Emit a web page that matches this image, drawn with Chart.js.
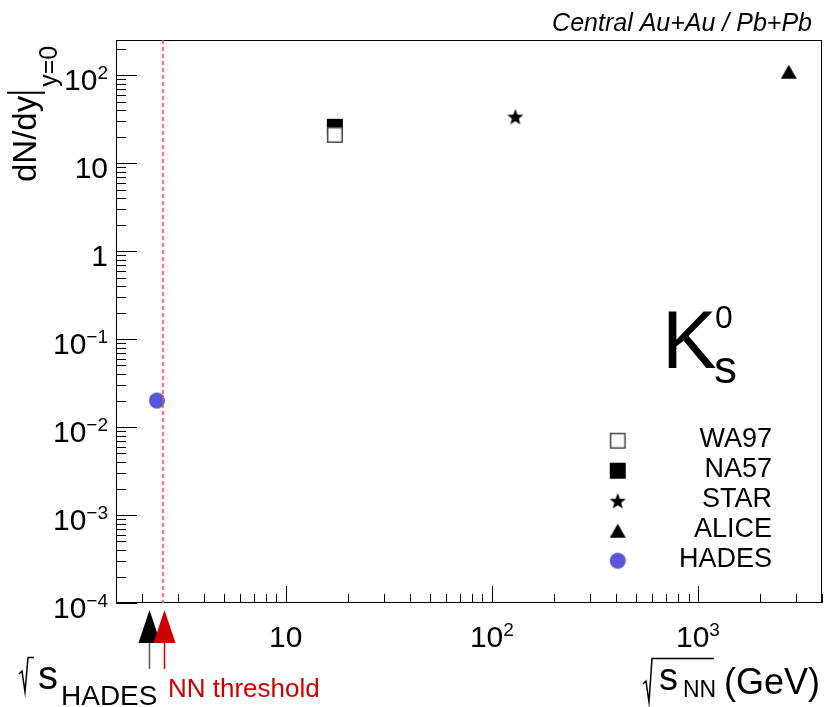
<!DOCTYPE html>
<html>
<head>
<meta charset="utf-8">
<script src="https://cdn.jsdelivr.net/npm/chart.js@4.4.1/dist/chart.umd.min.js"></script>
<style>
  html, body { margin: 0; padding: 0; background: #fff; }
  canvas { display: block; }
</style>
</head>
<body>
<canvas id="k0Chart" width="824" height="707"></canvas>
<script>
// ── DATA ─────────────────────────────────────────────────────────────────────
const experiments = ['WA97', 'NA57', 'STAR', 'ALICE', 'HADES'];
const sqrtSNN = [17.3, 17.3, 130, 2760, 2.37];
const dNdyK0 = [20.9, 25.8, 33.7, 109, 0.02];
const xRange = [1.5, 4000];
const yRange = [1e-4, 250];
const xLabelDecades = [1, 2, 3];
const yLabelDecades = [-4, -3, -2, -1, 0, 1, 2];
const nnThreshold = 2.55;
const hadesArrowX = 2.16;

const FONT = '"Liberation Sans", Arial, sans-serif';
const HADES_BLUE = '#5954d8';
const markerKinds = ['openSquare', 'square', 'star', 'triangle', 'circle'];

// ── MARKERS (ROOT-like shapes as small canvases) ─────────────────────────────
function makeMarker(kind) {
  const c = document.createElement('canvas');
  c.width = 20; c.height = 20;
  const g = c.getContext('2d');
  g.fillStyle = '#000';
  if (kind === 'openSquare') {
    g.fillStyle = '#fff'; g.fillRect(2.75, 2.75, 14.5, 14.5);
    g.strokeStyle = '#444'; g.lineWidth = 1.5; g.strokeRect(2.75, 2.75, 14.5, 14.5);
  } else if (kind === 'square') {
    g.fillRect(2, 2, 16, 16);
  } else if (kind === 'star') {
    const R = 8.5, r = 3.6, cx = 10, cy = 10.8;
    g.beginPath();
    for (let i = 0; i < 10; i++) {
      const a = -Math.PI / 2 + i * Math.PI / 5;
      const rr = i % 2 ? r : R;
      g.lineTo(cx + rr * Math.cos(a), cy + rr * Math.sin(a));
    }
    g.closePath(); g.fill();
  } else if (kind === 'triangle') {
    g.beginPath(); g.moveTo(10, 3); g.lineTo(18, 17); g.lineTo(2, 17); g.closePath(); g.fill();
  } else if (kind === 'circle') {
    g.fillStyle = HADES_BLUE;
    g.beginPath(); g.arc(10, 10, 8, 0, 2 * Math.PI); g.fill();
  }
  return c;
}
const markers = markerKinds.map(makeMarker);

// ── TEXT HELPERS ─────────────────────────────────────────────────────────────
function drawPow(ctx, e, x, baseY, align) {
  const base = e === 0 ? '1' : '10';
  const sup = (e === 0 || e === 1) ? '' : String(e).replace('-', '\u2212');
  ctx.font = `30px ${FONT}`;
  const wb = ctx.measureText(base).width;
  ctx.font = `19px ${FONT}`;
  const ws = sup ? ctx.measureText(sup).width : 0;
  const left = align === 'right' ? x - wb - ws : x - (wb + ws) / 2;
  ctx.textAlign = 'left';
  ctx.font = `30px ${FONT}`;
  ctx.fillText(base, left, baseY);
  if (sup) { ctx.font = `19px ${FONT}`; ctx.fillText(sup, left + wb, baseY - 11.3); }
}

function radical(ctx, x0, yTop, yBot, barEnd) {
  ctx.beginPath();
  ctx.moveTo(x0, yBot - 18);
  ctx.lineTo(x0 + 3, yBot - 21);
  ctx.lineTo(x0 + 6, yBot);
  ctx.lineTo(x0 + 9, yTop);
  ctx.lineTo(barEnd, yTop);
  ctx.stroke();
}

// ── ROOT STYLE FRAME, TICKS AND ANNOTATIONS ──────────────────────────────────
const rootStyle = {
  id: 'rootStyle',
  afterDraw(chart) {
    const { ctx, chartArea: a, scales: { x, y } } = chart;
    ctx.save();
    ctx.fillStyle = '#000';
    ctx.strokeStyle = '#000';
    ctx.lineWidth = 1;

    // frame
    ctx.strokeRect(a.left + 0.5, a.top + 0.5, a.right - a.left - 1, a.bottom - a.top - 1);

    // y ticks (inward from left axis)
    ctx.beginPath();
    for (let e = -5; e <= 3; e++) {
      for (let m = 1; m <= 9; m++) {
        const v = m * Math.pow(10, e);
        if (v < yRange[0] || v > yRange[1]) continue;
        const py = Math.round(y.getPixelForValue(v)) + 0.5;
        ctx.moveTo(a.left, py);
        ctx.lineTo(a.left + (m === 1 ? 21 : 10), py);
      }
    }
    // x ticks (upward from bottom axis)
    for (let e = 0; e <= 4; e++) {
      for (let m = 1; m <= 9; m++) {
        const v = m * Math.pow(10, e);
        if (v < xRange[0] || v > xRange[1]) continue;
        const px = Math.round(x.getPixelForValue(v)) + 0.5;
        ctx.moveTo(px, a.bottom);
        ctx.lineTo(px, a.bottom - (m === 1 ? 17 : 9));
      }
    }
    ctx.stroke();

    // tick labels
    yLabelDecades.forEach(e => drawPow(ctx, e, a.left - 8, y.getPixelForValue(Math.pow(10, e)) + 15, 'right'));
    xLabelDecades.forEach(e => drawPow(ctx, e, x.getPixelForValue(Math.pow(10, e)), a.bottom + 44, 'center'));

    // y title: dN/dy|_{y=0}
    ctx.save();
    ctx.translate(0, 182);
    ctx.rotate(-Math.PI / 2);
    ctx.textAlign = 'left';
    ctx.font = `33px ${FONT}`;
    ctx.fillText('dN/dy', 0, 36);
    const w = ctx.measureText('dN/dy').width;
    ctx.lineWidth = 2;
    ctx.beginPath(); ctx.moveTo(w + 3, 7); ctx.lineTo(w + 3, 45); ctx.stroke();
    ctx.font = `25px ${FONT}`;
    ctx.fillText('y=0', w + 9, 57);
    ctx.restore();

    // x title: √s_NN (GeV)
    ctx.lineWidth = 1.5;
    radical(ctx, 643, 658.5, 702, 714);
    ctx.textAlign = 'left';
    ctx.font = `38px ${FONT}`;
    ctx.fillText('s', 659, 690);
    ctx.font = `23px ${FONT}`;
    ctx.fillText('NN', 683, 697);
    ctx.textAlign = 'right';
    ctx.font = `36px ${FONT}`;
    ctx.fillText('(GeV)', 820, 694);

    // top label
    ctx.font = `italic 25px ${FONT}`;
    ctx.fillText('Central Au+Au / Pb+Pb', 812, 31);

    // K0s label
    ctx.textAlign = 'left';
    ctx.font = `82px ${FONT}`;
    ctx.fillText('K', 662, 368);
    ctx.font = `32px ${FONT}`;
    ctx.fillText('0', 715, 328);
    ctx.font = `46px ${FONT}`;
    ctx.fillText('s', 714, 383);

    // legend
    chart.data.datasets.forEach((ds, i) => {
      const ly = 440.7 + 30 * i;
      const img = ds.pointStyle;
      ctx.drawImage(img, 617.7 - img.width / 2, ly - img.height / 2);
      ctx.textAlign = 'right';
      ctx.font = `27px ${FONT}`;
      ctx.fillText(ds.label, 772, ly + 6);
    });

    // NN threshold dashed line
    const xt = Math.round(x.getPixelForValue(nnThreshold));
    ctx.strokeStyle = '#ff5050';
    ctx.lineWidth = 1.6;
    ctx.setLineDash([4, 3]);
    ctx.beginPath(); ctx.moveTo(xt, a.top); ctx.lineTo(xt, a.bottom); ctx.stroke();
    ctx.setLineDash([]);

    // arrows below the axis
    const xh = Math.round(x.getPixelForValue(hadesArrowX)) + 0.5;
    const arrow = (px, head, stem) => {
      ctx.strokeStyle = stem; ctx.lineWidth = 1.5;
      ctx.beginPath(); ctx.moveTo(px, 640); ctx.lineTo(px, 669); ctx.stroke();
      ctx.fillStyle = head;
      ctx.beginPath(); ctx.moveTo(px, 610); ctx.lineTo(px + 11, 643); ctx.lineTo(px - 11, 643); ctx.closePath(); ctx.fill();
    };
    arrow(xh, '#000', '#555');
    arrow(xt + 1.5, '#cc0000', '#cc0000');

    // √s_HADES and NN threshold labels
    ctx.strokeStyle = '#000'; ctx.fillStyle = '#000'; ctx.lineWidth = 1.5;
    radical(ctx, 19, 657.5, 692, 24 + 10);
    ctx.textAlign = 'left';
    ctx.font = `40px ${FONT}`;
    ctx.fillText('s', 38, 689);
    ctx.font = `28px ${FONT}`;
    ctx.fillText('HADES', 61, 705);
    ctx.fillStyle = '#cc0000';
    ctx.font = `26px ${FONT}`;
    ctx.fillText('NN threshold', 168, 697);

    ctx.restore();
  }
};

// ── CHART ────────────────────────────────────────────────────────────────────
const datasets = experiments.map((name, i) => ({
  label: name,
  data: [{ x: sqrtSNN[i], y: dNdyK0[i] }],
  pointStyle: markers[i],
  pointRadius: 8,
  showLine: false
}));

new Chart(document.getElementById('k0Chart'), {
  type: 'scatter',
  data: { datasets },
  options: {
    responsive: false,
    devicePixelRatio: 1,
    animation: false,
    events: [],
    layout: { autoPadding: false, padding: { left: 116, top: 40, right: 2, bottom: 104 } },
    scales: {
      x: { type: 'logarithmic', min: xRange[0], max: xRange[1], display: false },
      y: { type: 'logarithmic', min: yRange[0], max: yRange[1], display: false }
    },
    plugins: { legend: { display: false }, tooltip: { enabled: false } }
  },
  plugins: [rootStyle]
});
</script>
</body>
</html>
